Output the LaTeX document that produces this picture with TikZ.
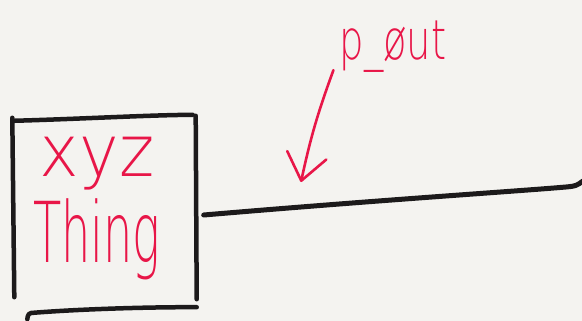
\documentclass[tikz,border=0pt]{standalone}
\usepackage{fontspec}
\newfontfamily\handfont{DejaVu Sans}[UprightFont={* ExtraLight}]
\usetikzlibrary{arrows.meta,calc}
\definecolor{paper}{RGB}{244,243,240}
\definecolor{inkred}{RGB}{232,22,72}
\definecolor{inkblack}{RGB}{28,26,27}

\begin{document}
\begin{tikzpicture}[x=1pt, y=-1pt, >={Straight Barb[length=26pt, width=40pt, line cap=round, line join=round]}]
    \tikzset{ink/.style={draw=inkblack, line width=4.5pt, line cap=round, line join=round},
      redink/.style={draw=inkred, line width=2.6pt, line cap=round, line join=round},
      handtext/.style={text=inkred, inner sep=0pt, anchor=base}}
    \fill[paper] (0,0) rectangle (582,321);
    \useasboundingbox (0,0) rectangle (582,321);
    % the box, drawn stroke by stroke
    \node[minimum width=183pt, minimum height=190pt, inner sep=0pt] (thing) at (104,212) {};
    \draw[ink] ($(thing.north west)+(0,1)$) -- ($(thing.south west)+(2,-10)$);
    \draw[ink] ($(thing.north west)+(1,4)$) .. controls (80,119) and (150,115) .. ($(thing.north east)+(-3,-2)$);
    \draw[ink] ($(thing.north east)+(0,-1)$) -- ($(thing.south east)+(1,-8)$);
    \draw[ink, rounded corners=3pt] ($(thing.south west)+(15,12)$) -- ($(thing.south west)+(16,6)$) .. controls (80,309) and (150,307) .. ($(thing.south east)+(1,0)$);
    \node[handtext, font=\handfont\fontsize{72}{72}\selectfont] (xyzword) at (97,176) {\scalebox{0.93}[1]{xyz}};
    \node[handtext, font=\handfont\fontsize{84}{84}\selectfont] (thingword) at (97,262) {\scalebox{0.55}[1]{Thing}};
    % the wire and its label
    \coordinate (wire) at (583,181);
    \draw[ink, line width=5pt] ($(thing.east)+(8,3)$) .. controls (380,200) and (520,191) .. (566,187) .. controls (576,186) .. (wire);
    \node[handtext, font=\handfont\fontsize{55}{55}\selectfont] (pout) at (393,60) {\scalebox{0.7}[1]{p\_øut}};
    \coordinate (ptip) at (301,182);
    \draw[redink, ->] ($(pout.south west)+(-6,-3)$) to[bend right=4] (ptip);
\end{tikzpicture}
\end{document}
